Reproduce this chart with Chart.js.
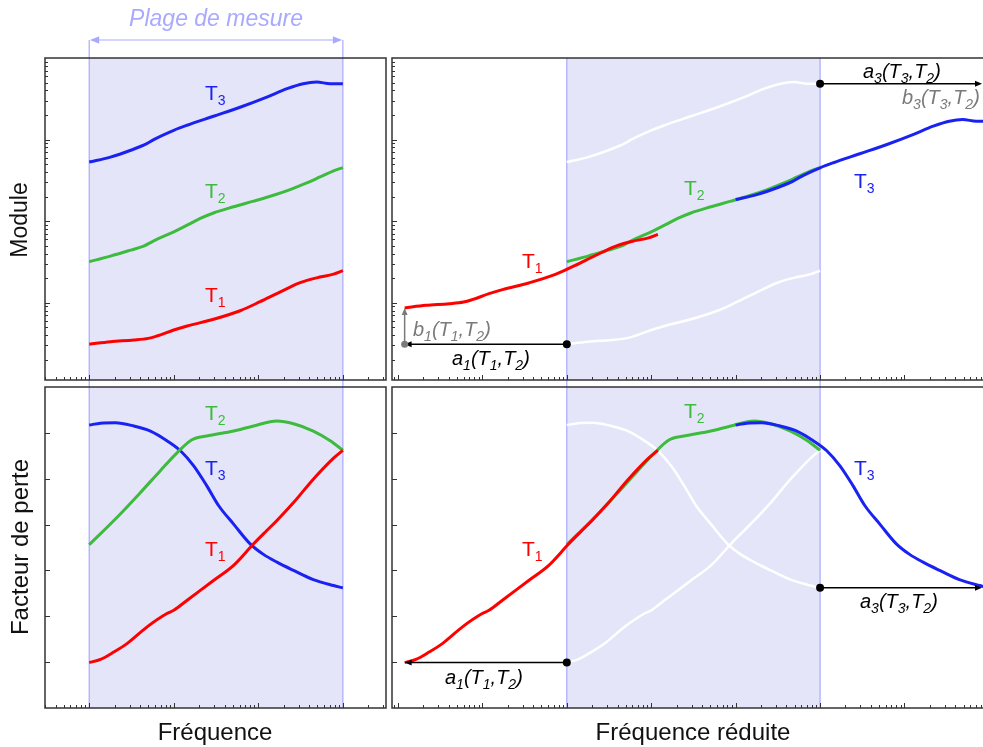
<!DOCTYPE html>
<html lang="fr">
<head>
<meta charset="utf-8">
<title>Superposition temps-température</title>
<script src="https://cdn.jsdelivr.net/npm/chart.js@4.4.0/dist/chart.umd.min.js"></script>
<style>
  html, body { margin: 0; padding: 0; background: #fff; }
  body { position: relative; width: 983px; height: 747px; overflow: hidden; }
  canvas { position: absolute; }
</style>
</head>
<body>
<canvas id="chart-mod-f" width="390" height="384" style="left:0;top:0"></canvas>
<canvas id="chart-mod-red" width="593" height="384" style="left:390px;top:0"></canvas>
<canvas id="chart-loss-f" width="390" height="363" style="left:0;top:384px"></canvas>
<canvas id="chart-loss-red" width="593" height="363" style="left:390px;top:384px"></canvas>
<script>
const FREQ_T1_MOD = [1, 1.78, 3.37, 5, 6.3, 10, 14.4, 29.5, 61, 105, 182, 313, 490, 776, 1000];
const MOD_T1 = [3.1, 3.33, 3.49, 3.66, 3.91, 4.63, 5.19, 6.27, 7.98, 10.3, 13.6, 17.6, 20.2, 22.4, 24.7];
const FREQ_T2_MOD = [1, 1.78, 3.1, 4.4, 5.8, 10, 14.4, 20.6, 29.5, 51, 88, 151, 238, 374, 537, 776, 1000];
const MOD_T2 = [31.8, 37.3, 44.2, 49.4, 57.4, 74, 89.3, 108, 126, 150, 176, 208, 244, 294, 348, 413, 454];
const FREQ_T3_MOD = [1, 1.78, 3.1, 4.8, 5.8, 10, 14.4, 29.5, 62, 126, 219, 339, 490, 708, 1000];
const MOD_T3 = [530, 610, 740, 890, 1000, 1300, 1500, 1930, 2510, 3320, 4210, 4840, 5070, 4840, 4840];

const FREQ_T1_LOSS = [1, 1.36, 1.95, 2.82, 4.84, 8.3, 10, 14.4, 29.5, 51, 88, 126, 166, 261, 447, 776, 1000];
const LOSS_T1 = [0.99, 1.06, 1.22, 1.41, 1.77, 2.06, 2.13, 2.35, 2.78, 3.11, 3.58, 3.87, 4.09, 4.48, 4.99, 5.45, 5.62];
const FREQ_T2_LOSS = [1, 2.14, 4.04, 6.9, 11, 16.4, 24.5, 51, 88, 166, 261, 447, 708, 1000];
const LOSS_T2 = [3.56, 4.16, 4.70, 5.17, 5.57, 5.85, 5.93, 6.04, 6.15, 6.26, 6.20, 6.04, 5.83, 5.62];
const FREQ_T3_LOSS = [1, 1.36, 2.04, 3.37, 5.3, 8.3, 12, 17.2, 24.5, 34, 51, 80, 115, 166, 261, 447, 776, 1000];
const LOSS_T3 = [6.17, 6.21, 6.22, 6.15, 6.04, 5.83, 5.61, 5.28, 4.85, 4.41, 4.01, 3.58, 3.35, 3.18, 3.0, 2.80, 2.67, 2.62];

// Shift factors T1, T2 (reference), T3
const SHIFT_A = [0.012, 1, 100];
const SHIFT_B = [2.79, 1, 0.347];

// Measurement window and axis limits
const MEAS_RANGE = [1, 1000];
const FREQ_LIMITS = [0.305, 3236];
const RED_LIMITS = [0.0085, 85100];
const MOD_LIMITS = [1.13, 10000];
const LOSS_LIMITS = [0, 7];
const LOSS_TICKS = [1, 2, 3, 4, 5, 6];

const COLORS = {
  t1: '#ff0000',
  t2: '#3dbb3d',
  t3: '#1a22f2',
  ghost: '#ffffff',
  shade: '#e5e5fa',
  shadeLine: '#a9a9ff',
  axis: '#333333',
  grey: '#7a7a7a'
};
const FONT = '"Liberation Sans", Arial, Helvetica, sans-serif';

function serie(freqs, vals, color, width, fx, fy, order) {
  return {
    data: freqs.map((f, i) => ({ x: f * fx, y: vals[i] * fy })),
    borderColor: color,
    borderWidth: width,
    pointRadius: 0,
    fill: false,
    cubicInterpolationMode: 'monotone',
    order: order
  };
}

// draw "T_3" style text, "_d" -> subscript
function richText(ctx, text, x, y, color, size, italic, align) {
  const parts = text.split(/_(\d)/).map((t, i) => ({ t, sub: i % 2 === 1 })).filter(p => p.t);
  const subSize = Math.round(size * 0.68);
  const fontOf = p => (italic ? 'italic ' : '') + (p.sub ? subSize : size) + 'px ' + FONT;
  ctx.save();
  ctx.fillStyle = color;
  ctx.textBaseline = 'alphabetic';
  ctx.textAlign = 'left';
  let w = 0;
  parts.forEach(p => { ctx.font = fontOf(p); w += ctx.measureText(p.t).width; });
  let cx = align === 'center' ? x - w / 2 : x;
  parts.forEach(p => {
    ctx.font = fontOf(p);
    ctx.fillText(p.t, cx, y + (p.sub ? size * 0.25 : 0));
    cx += ctx.measureText(p.t).width;
  });
  ctx.restore();
}

function arrowHead(ctx, x, y, dx, dy, size) {
  const L = Math.hypot(dx, dy);
  dx /= L; dy /= L;
  const h = size * 0.42;
  ctx.beginPath();
  ctx.moveTo(x, y);
  ctx.lineTo(x - dx * size + dy * h, y - dy * size - dx * h);
  ctx.lineTo(x - dx * size - dy * h, y - dy * size + dx * h);
  ctx.closePath();
  ctx.fill();
}

function logTicks(scale) {
  const out = [];
  const n0 = Math.floor(Math.log10(scale.min)), n1 = Math.ceil(Math.log10(scale.max));
  for (let n = n0; n <= n1; n++) {
    for (let k = 1; k <= 9; k++) {
      const v = k * Math.pow(10, n);
      if (v > scale.min && v < scale.max) out.push({ v, major: k === 1 });
    }
  }
  return out;
}

/**
 * Per-panel decoration: measurement band, inner ticks, frame, arrows, labels
 */
function makeDecor(cfg) {
  return {
    id: 'decor',
    beforeDatasetsDraw(chart) {
      const { ctx, chartArea: a, scales: { x } } = chart;
      const xa = x.getPixelForValue(MEAS_RANGE[0]);
      const xb = x.getPixelForValue(MEAS_RANGE[1]);
      ctx.save();
      ctx.fillStyle = COLORS.shade;
      ctx.fillRect(xa, a.top, xb - xa, a.bottom - a.top);
      ctx.strokeStyle = COLORS.shadeLine;
      ctx.lineWidth = 1.2;
      const top = cfg.lineTop !== undefined ? cfg.lineTop : a.top;
      const bottom = cfg.lineBottom !== undefined ? cfg.lineBottom : a.bottom;
      [xa, xb].forEach(px => {
        ctx.beginPath();
        ctx.moveTo(px, top);
        ctx.lineTo(px, bottom);
        ctx.stroke();
      });
      if (cfg.range) {
        const y = cfg.range.arrowY;
        ctx.fillStyle = COLORS.shadeLine;
        ctx.beginPath();
        ctx.moveTo(xa + 2, y);
        ctx.lineTo(xb - 2, y);
        ctx.stroke();
        arrowHead(ctx, xa + 1, y, -1, 0, 9);
        arrowHead(ctx, xb - 1, y, 1, 0, 9);
        ctx.font = 'italic 23px ' + FONT;
        ctx.textAlign = 'center';
        ctx.textBaseline = 'middle';
        ctx.fillText(cfg.range.text, (xa + xb) / 2, cfg.range.textY);
      }
      ctx.restore();
    },
    afterDatasetsDraw(chart) {
      const { ctx, chartArea: a, scales: { x, y } } = chart;
      ctx.save();
      // inner ticks
      ctx.strokeStyle = COLORS.axis;
      ctx.lineWidth = 1;
      logTicks(x).forEach(t => {
        const px = Math.round(x.getPixelForValue(t.v)) + 0.5;
        ctx.beginPath();
        ctx.moveTo(px, a.bottom);
        ctx.lineTo(px, a.bottom - (t.major ? 5 : 3));
        ctx.stroke();
      });
      const yt = y.type === 'logarithmic' ? logTicks(y) : LOSS_TICKS.map(v => ({ v, major: true }));
      yt.forEach(t => {
        const py = Math.round(y.getPixelForValue(t.v)) + 0.5;
        ctx.beginPath();
        ctx.moveTo(a.left, py);
        ctx.lineTo(a.left + (t.major ? 5 : 3), py);
        ctx.stroke();
      });
      // frame
      ctx.strokeStyle = COLORS.axis;
      ctx.lineWidth = 1.5;
      ctx.beginPath();
      if (cfg.openRight) {
        ctx.moveTo(chart.width, a.top);
        ctx.lineTo(a.left, a.top);
        ctx.lineTo(a.left, a.bottom);
        ctx.lineTo(chart.width, a.bottom);
      } else {
        ctx.rect(a.left, a.top, a.right - a.left, a.bottom - a.top);
      }
      ctx.stroke();
      // arrows
      (cfg.arrows || []).forEach(ar => {
        const x0 = x.getPixelForValue(ar.from[0]), y0 = y.getPixelForValue(ar.from[1]);
        let x1 = x.getPixelForValue(ar.to[0]), y1 = y.getPixelForValue(ar.to[1]);
        x1 = Math.min(x1, chart.width - 1);
        ctx.strokeStyle = ar.color;
        ctx.fillStyle = ar.color;
        ctx.lineWidth = 1.5;
        const dx = x1 - x0, dy = y1 - y0, L = Math.hypot(dx, dy);
        ctx.beginPath();
        ctx.moveTo(x0, y0);
        ctx.lineTo(x1 - dx / L * 4, y1 - dy / L * 4);
        ctx.stroke();
        arrowHead(ctx, x1, y1, dx, dy, 7);
      });
      (cfg.dots || []).forEach(d => {
        ctx.fillStyle = d.color;
        ctx.beginPath();
        ctx.arc(x.getPixelForValue(d.at[0]), y.getPixelForValue(d.at[1]), d.r, 0, Math.PI * 2);
        ctx.fill();
      });
      ctx.restore();
      // labels
      (cfg.labels || []).forEach(l => richText(ctx, l.text, l.x, l.y, l.color, l.size || 21, !!l.italic, l.align));
      (cfg.titles || []).forEach(t => {
        ctx.save();
        ctx.fillStyle = '#111';
        ctx.font = (t.size || 24) + 'px ' + FONT;
        ctx.textAlign = 'center';
        ctx.textBaseline = 'middle';
        ctx.translate(t.x, t.y);
        if (t.rotate) ctx.rotate(-Math.PI / 2);
        ctx.fillText(t.text, 0, 0);
        ctx.restore();
      });
    }
  };
}

function makeChart(id, datasets, xLim, yScale, padding, decor) {
  return new Chart(document.getElementById(id), {
    type: 'line',
    data: { datasets },
    options: {
      responsive: false,
      animation: false,
      events: [],
      layout: { padding },
      plugins: { legend: { display: false }, tooltip: { enabled: false } },
      scales: {
        x: { type: 'logarithmic', min: xLim[0], max: xLim[1], display: false },
        y: Object.assign({ display: false }, yScale)
      }
    },
    plugins: [makeDecor(decor)]
  });
}

function init() {
  const modScale = { type: 'logarithmic', min: MOD_LIMITS[0], max: MOD_LIMITS[1] };
  const lossScale = { type: 'linear', min: LOSS_LIMITS[0], max: LOSS_LIMITS[1] };
  const nM = MOD_T3.length - 1, nL = LOSS_T3.length - 1;

  // Module vs frequency
  makeChart('chart-mod-f', [
    serie(FREQ_T1_MOD, MOD_T1, COLORS.t1, 3, 1, 1, 0),
    serie(FREQ_T2_MOD, MOD_T2, COLORS.t2, 3, 1, 1, 1),
    serie(FREQ_T3_MOD, MOD_T3, COLORS.t3, 3, 1, 1, 2)
  ], FREQ_LIMITS, modScale, { left: 45, top: 58, right: 4, bottom: 4 }, {
    lineTop: 40,
    lineBottom: 384,
    range: { text: 'Plage de mesure', textY: 20, arrowY: 40 },
    labels: [
      { text: 'T_3', x: 205, y: 100, color: COLORS.t3 },
      { text: 'T_2', x: 205, y: 198, color: COLORS.t2 },
      { text: 'T_1', x: 205, y: 302, color: COLORS.t1 }
    ],
    titles: [{ text: 'Module', x: 21, y: 220, rotate: true, size: 23 }]
  });

  // Module vs reduced frequency
  makeChart('chart-mod-red', [
    serie(FREQ_T1_MOD, MOD_T1, COLORS.t1, 3, SHIFT_A[0], SHIFT_B[0], 0),
    serie(FREQ_T3_MOD, MOD_T3, COLORS.t3, 3, SHIFT_A[2], SHIFT_B[2], 1),
    serie(FREQ_T2_MOD, MOD_T2, COLORS.t2, 3, SHIFT_A[1], SHIFT_B[1], 2),
    serie(FREQ_T1_MOD, MOD_T1, COLORS.ghost, 2.5, 1, 1, 3),
    serie(FREQ_T3_MOD, MOD_T3, COLORS.ghost, 2.5, 1, 1, 4)
  ], RED_LIMITS, modScale, { left: 2, top: 58, right: 0, bottom: 4 }, {
    lineBottom: 384,
    openRight: true,
    arrows: [
      { from: [MEAS_RANGE[0], MOD_T1[0]], to: [MEAS_RANGE[0] * SHIFT_A[0], MOD_T1[0]], color: '#000' },
      { from: [MEAS_RANGE[0] * SHIFT_A[0], MOD_T1[0]], to: [MEAS_RANGE[0] * SHIFT_A[0], MOD_T1[0] * SHIFT_B[0]], color: COLORS.grey },
      { from: [MEAS_RANGE[1], MOD_T3[nM]], to: [MEAS_RANGE[1] * SHIFT_A[2], MOD_T3[nM]], color: '#000' }
    ],
    dots: [
      { at: [MEAS_RANGE[0], MOD_T1[0]], r: 4, color: '#000' },
      { at: [MEAS_RANGE[0] * SHIFT_A[0], MOD_T1[0]], r: 3.5, color: COLORS.grey },
      { at: [MEAS_RANGE[1], MOD_T3[nM]], r: 4, color: '#000' }
    ],
    labels: [
      { text: 'T_1', x: 132, y: 268, color: COLORS.t1 },
      { text: 'T_2', x: 294, y: 195, color: COLORS.t2 },
      { text: 'T_3', x: 464, y: 188, color: COLORS.t3 },
      { text: 'a_3(T_3,T_2)', x: 473, y: 78, color: '#000', italic: true, size: 20 },
      { text: 'b_3(T_3,T_2)', x: 512, y: 104, color: COLORS.grey, italic: true, size: 20 },
      { text: 'b_1(T_1,T_2)', x: 23, y: 336, color: COLORS.grey, italic: true, size: 20 },
      { text: 'a_1(T_1,T_2)', x: 62, y: 365, color: '#000', italic: true, size: 20 }
    ]
  });

  // Loss factor vs frequency
  makeChart('chart-loss-f', [
    serie(FREQ_T1_LOSS, LOSS_T1, COLORS.t1, 3, 1, 1, 0),
    serie(FREQ_T2_LOSS, LOSS_T2, COLORS.t2, 3, 1, 1, 1),
    serie(FREQ_T3_LOSS, LOSS_T3, COLORS.t3, 3, 1, 1, 2)
  ], FREQ_LIMITS, lossScale, { left: 45, top: 3, right: 4, bottom: 39 }, {
    lineTop: 0,
    labels: [
      { text: 'T_2', x: 205, y: 36, color: COLORS.t2 },
      { text: 'T_3', x: 205, y: 91, color: COLORS.t3 },
      { text: 'T_1', x: 205, y: 172, color: COLORS.t1 }
    ],
    titles: [
      { text: 'Facteur de perte', x: 21, y: 163, rotate: true },
      { text: 'Fréquence', x: 215, y: 349 }
    ]
  });

  // Loss factor vs reduced frequency
  makeChart('chart-loss-red', [
    serie(FREQ_T1_LOSS, LOSS_T1, COLORS.t1, 3, SHIFT_A[0], 1, 0),
    serie(FREQ_T3_LOSS, LOSS_T3, COLORS.t3, 3, SHIFT_A[2], 1, 1),
    serie(FREQ_T2_LOSS, LOSS_T2, COLORS.t2, 3, SHIFT_A[1], 1, 2),
    serie(FREQ_T1_LOSS, LOSS_T1, COLORS.ghost, 2.5, 1, 1, 3),
    serie(FREQ_T3_LOSS, LOSS_T3, COLORS.ghost, 2.5, 1, 1, 4)
  ], RED_LIMITS, lossScale, { left: 2, top: 3, right: 0, bottom: 39 }, {
    lineTop: 0,
    openRight: true,
    arrows: [
      { from: [MEAS_RANGE[0], LOSS_T1[0]], to: [MEAS_RANGE[0] * SHIFT_A[0], LOSS_T1[0]], color: '#000' },
      { from: [MEAS_RANGE[1], LOSS_T3[nL]], to: [MEAS_RANGE[1] * SHIFT_A[2], LOSS_T3[nL]], color: '#000' }
    ],
    dots: [
      { at: [MEAS_RANGE[0], LOSS_T1[0]], r: 4, color: '#000' },
      { at: [MEAS_RANGE[1], LOSS_T3[nL]], r: 4, color: '#000' }
    ],
    labels: [
      { text: 'T_2', x: 294, y: 34, color: COLORS.t2 },
      { text: 'T_1', x: 132, y: 172, color: COLORS.t1 },
      { text: 'T_3', x: 464, y: 91, color: COLORS.t3 },
      { text: 'a_1(T_1,T_2)', x: 55, y: 300, color: '#000', italic: true, size: 20 },
      { text: 'a_3(T_3,T_2)', x: 470, y: 224, color: '#000', italic: true, size: 20 }
    ],
    titles: [{ text: 'Fréquence réduite', x: 303, y: 349 }]
  });
}

if (document.readyState === 'loading') {
  document.addEventListener('DOMContentLoaded', init);
} else {
  init();
}
</script>
</body>
</html>
